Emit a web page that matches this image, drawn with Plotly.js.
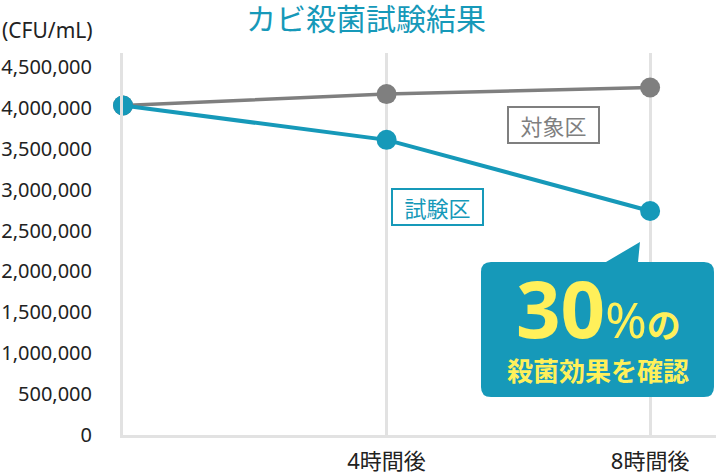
<!DOCTYPE html>
<html>
<head>
<meta charset="utf-8">
<script src="https://cdn.plot.ly/plotly-3.0.1.min.js"></script>
<style>
  html, body { margin: 0; padding: 0; background: #fff; }
  #chart { width: 716px; height: 475px; }
</style>
</head>
<body>
<div id="chart"></div>
<script>
  // data
  const hours = [0, 4, 8];
  const hourLabels = ['4時間後', '8時間後'];
  const hourTicks = [4, 8];
  const controlValues = [4030000, 4170000, 4250000];  // 対象区
  const testValues = [4030000, 3610000, 2740000];     // 試験区

  const TEAL = '#1699b9',
    GREY = '#7f7f7f',
    GRID = '#e2e2e2',
    YELLOW = '#fff05a';
  const FONT = '"Noto Sans", "Noto Sans CJK JP", sans-serif';

  // plot area in pixels, used to place the decorations
  const W = 716, H = 475;
  const margin = {l: 123, r: 0, t: 53, b: 40, pad: 0};
  const plotW = W - margin.l - margin.r, plotH = H - margin.t - margin.b;
  const px = x => (x - margin.l) / plotW;
  const py = y => (H - margin.b - y) / plotH;

  // callout bubble: rounded box with a pointer towards the 8h point
  function bubblePath(x0, y0, x1, y1, r, tipX, tipY, b0, b1) {
    let p = (x, y) => px(x).toFixed(4) + ',' + py(y).toFixed(4);
    return 'M' + p(x0 + r, y0) +
      ' L' + p(b0, y0) + ' L' + p(tipX, tipY) + ' L' + p(b1, y0) +
      ' L' + p(x1 - r, y0) + ' Q' + p(x1, y0) + ' ' + p(x1, y0 + r) +
      ' L' + p(x1, y1 - r) + ' Q' + p(x1, y1) + ' ' + p(x1 - r, y1) +
      ' L' + p(x0 + r, y1) + ' Q' + p(x0, y1) + ' ' + p(x0, y1 - r) +
      ' L' + p(x0, y0 + r) + ' Q' + p(x0, y0) + ' ' + p(x0 + r, y0) + ' Z';
  }

  let traces = [
    {
      x: hours, y: controlValues, type: 'scatter', mode: 'lines+markers',
      line: {color: GREY, width: 3.5}, marker: {color: GREY, size: 20},
      cliponaxis: false, hoverinfo: 'skip'
    },
    {
      x: hours, y: testValues, type: 'scatter', mode: 'lines+markers',
      line: {color: TEAL, width: 4}, marker: {color: TEAL, size: 20},
      cliponaxis: false, hoverinfo: 'skip'
    }
  ];

  let layout = {
    width: W, height: H,
    margin: margin,
    paper_bgcolor: '#fff', plot_bgcolor: '#fff',
    showlegend: false,
    font: {family: FONT, color: '#222'},
    title: {
      text: 'カビ殺菌試験結果',
      font: {family: '"Noto Sans CJK JP", sans-serif', size: 30, color: TEAL},
      x: 366 / W, xanchor: 'center', y: 1 - 19 / H, yanchor: 'middle'
    },
    xaxis: {
      range: [0, 9], tickvals: hourTicks, ticktext: hourLabels,
      showgrid: true, gridcolor: GRID, gridwidth: 3,
      showline: true, linecolor: GRID, linewidth: 3,
      zeroline: false, ticks: '', ticklabelstandoff: 5,
      tickfont: {family: FONT, size: 22, color: '#222'},
      fixedrange: true
    },
    yaxis: {
      range: [0, 4672600], dtick: 500000, tickformat: ',d',
      showgrid: false, zeroline: false,
      showline: true, linecolor: GRID, linewidth: 3,
      ticks: '', ticklabelstandoff: 24,
      tickfont: {family: FONT, size: 20, color: '#222'},
      fixedrange: true
    },
    shapes: [
      {
        type: 'path', xref: 'paper', yref: 'paper',
        path: bubblePath(481, 262, 714, 397, 10, 640, 242, 606, 638),
        fillcolor: TEAL, line: {width: 0}, layer: 'above'
      }
    ],
    annotations: [
      {
        text: '(CFU/mL)', xref: 'paper', yref: 'paper',
        x: px(0), y: py(30), xanchor: 'left', yanchor: 'middle',
        showarrow: false, font: {family: FONT, size: 21, color: '#222'}
      },
      {
        text: '対象区', xref: 'paper', yref: 'paper',
        x: px(553), y: py(125), xanchor: 'center', yanchor: 'middle',
        showarrow: false, width: 85, height: 30, borderpad: 2,
        bordercolor: GREY, borderwidth: 2, bgcolor: '#fff',
        font: {family: '"Noto Sans CJK JP", sans-serif', size: 22, color: GREY}
      },
      {
        text: '試験区', xref: 'paper', yref: 'paper',
        x: px(437), y: py(207), xanchor: 'center', yanchor: 'middle',
        showarrow: false, width: 85, height: 30, borderpad: 2,
        bordercolor: TEAL, borderwidth: 2, bgcolor: '#fff',
        font: {family: '"Noto Sans CJK JP", sans-serif', size: 22, color: TEAL}
      },
      {
        text: '<b>30</b><span style="font-size:50px">%</span><b><span style="font-size:34px">の</span></b>',
        xref: 'paper', yref: 'paper',
        x: px(598), y: py(308), xanchor: 'center', yanchor: 'middle',
        showarrow: false,
        font: {family: '"Noto Sans", "Noto Sans CJK JP", sans-serif', size: 78, color: YELLOW}
      },
      {
        text: '<b>殺菌効果を確認</b>',
        xref: 'paper', yref: 'paper',
        x: px(598), y: py(369), xanchor: 'center', yanchor: 'middle',
        showarrow: false,
        font: {family: '"Noto Sans CJK JP", sans-serif', size: 26, color: YELLOW}
      }
    ]
  };

  Plotly.newPlot('chart', traces, layout, {displayModeBar: false, staticPlot: true});
</script>
</body>
</html>
